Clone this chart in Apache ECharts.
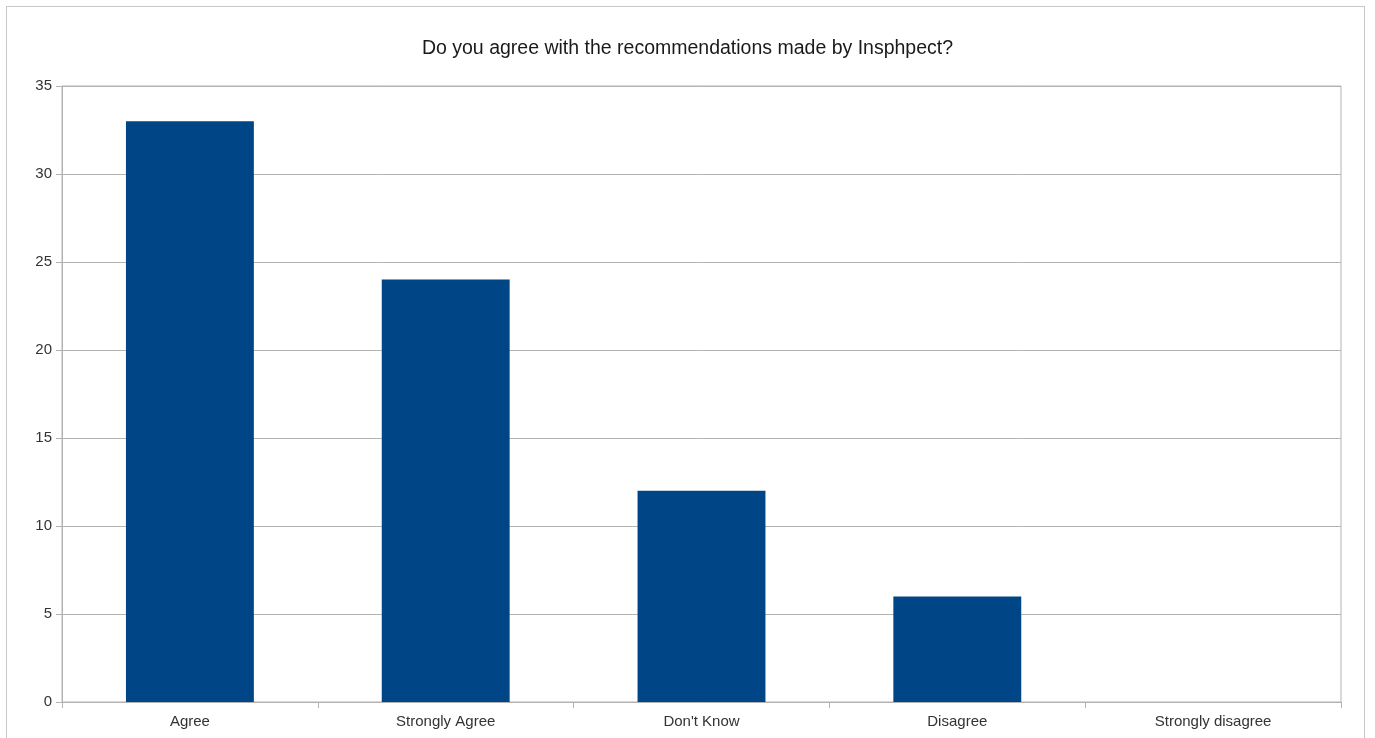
<!DOCTYPE html>
<html>
<head>
<meta charset="utf-8">
<script src="https://cdn.jsdelivr.net/npm/echarts@6/dist/echarts.min.js"></script>
<style>
html,body{margin:0;padding:0;background:#fff;}
#wrap{position:relative;width:1375px;height:738px;overflow:hidden;}
#frame{position:absolute;left:6px;top:6px;width:1359px;height:760px;border:1px solid #c8c8c8;box-sizing:border-box;}
#chart{position:absolute;left:0;top:0;width:1375px;height:738px;}
</style>
</head>
<body>
<div id="wrap"><div id="frame"></div><div id="chart"></div></div>
<script>
const titleText = "Do you agree with the recommendations made by Insphpect?";
const categories = ["Agree", "Strongly Agree", "Don't Know", "Disagree", "Strongly disagree"];
const values = [33, 24, 12, 6, 0];
const yMin = 0, yMax = 35, yInterval = 5;

const chart = echarts.init(document.getElementById('chart'));
chart.setOption({
  animation: false,
  title: {
    text: titleText,
    left: 'center',
    top: 34,
    textStyle: {fontFamily: 'Liberation Sans', fontSize: 19.5, fontWeight: 'normal', color: '#1a1a1a'}
  },
  grid: {left: 62, right: 34, top: 86, bottom: 36, show: true, borderColor: '#b3b3b3', borderWidth: 1},
  xAxis: {
    type: 'category',
    data: categories,
    axisLine: {lineStyle: {color: '#b3b3b3'}},
    axisTick: {show: true, length: 6, lineStyle: {color: '#b3b3b3'}},
    axisLabel: {fontFamily: 'Liberation Sans', fontSize: 15, color: '#333', margin: 12}
  },
  yAxis: {
    type: 'value',
    min: yMin, max: yMax, interval: yInterval,
    axisLine: {show: true, lineStyle: {color: '#b3b3b3'}},
    axisTick: {show: true, length: 6, lineStyle: {color: '#b3b3b3'}},
    axisLabel: {fontFamily: 'Liberation Sans', fontSize: 15, color: '#333', margin: 10},
    splitLine: {lineStyle: {color: '#b3b3b3'}}
  },
  series: [{
    type: 'bar',
    data: values,
    barWidth: '50%',
    itemStyle: {color: '#004586'}
  }]
});
</script>
</body>
</html>
